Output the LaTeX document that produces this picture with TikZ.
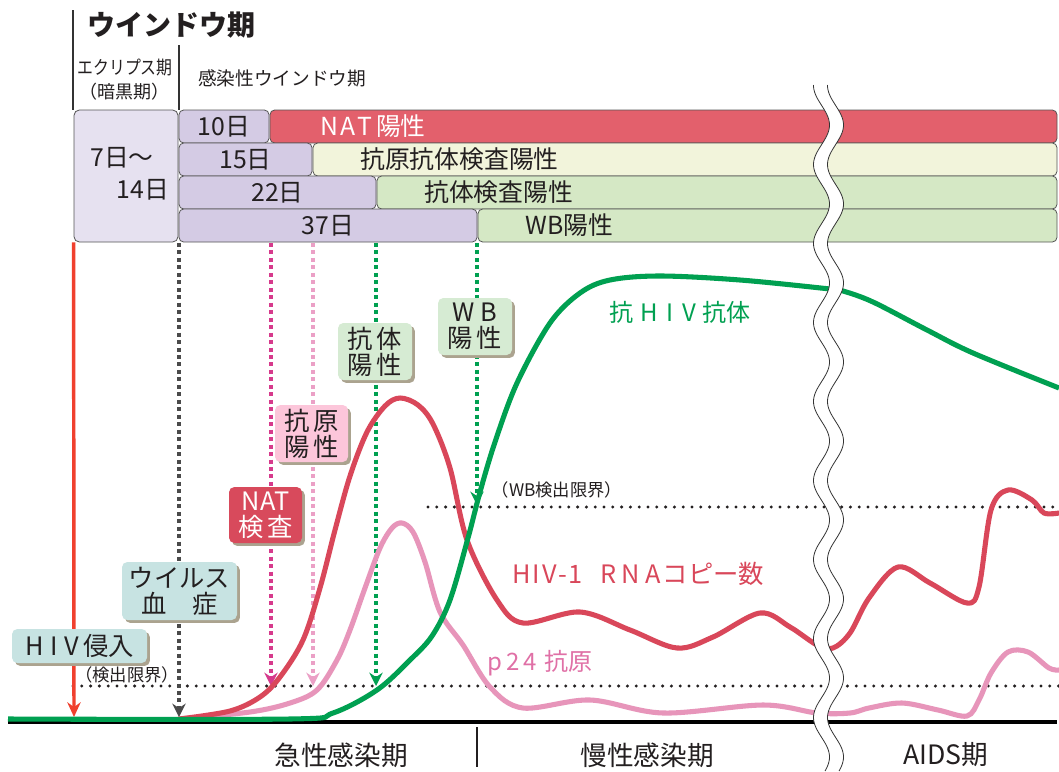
\documentclass[tikz,border=0pt]{standalone}
\usepackage{fontspec}
\setmainfont{Noto Sans CJK JP}
\usetikzlibrary{arrows.meta,shadows}
\definecolor{lav}{HTML}{D4CBE4}
\definecolor{lavlt}{HTML}{E6E1F0}
\definecolor{redbar}{HTML}{E3606C}
\definecolor{cream}{HTML}{F2F4DB}
\definecolor{grnbar}{HTML}{D5E8C5}
\definecolor{txt}{HTML}{231F20}
\definecolor{tealbox}{HTML}{C7E3E2}
\definecolor{natred}{HTML}{D84A5C}
\definecolor{pinkbox}{HTML}{FCC6DA}
\definecolor{grnbox}{HTML}{D6EBD3}
\definecolor{rna}{HTML}{D9475A}
\definecolor{p24c}{HTML}{E795BA}
\definecolor{p24txt}{HTML}{E070A6}
\definecolor{abc}{HTML}{00A051}
\definecolor{shad}{HTML}{ABA38F}
\definecolor{graydot}{HTML}{4A4A4A}
\definecolor{magdot}{HTML}{D63A8C}
\definecolor{pinkdot}{HTML}{EBA0C6}
\definecolor{hivred}{HTML}{F0402E}
\definecolor{edgec}{HTML}{555555}
\begin{document}
\begin{tikzpicture}[x=0.75pt,y=-0.75pt,
  bar/.style={draw=edgec, line width=0.6pt, rounded corners=3.5pt, inner sep=0pt, minimum height=24.75pt, text=txt, font=\fontsize{18.6}{20}\selectfont},
  bartext/.style={anchor=west, inner sep=0pt, text=txt, font=\fontsize{18.6}{20}\selectfont},
  lbl/.style={rounded corners=4pt, inner sep=0pt, align=center, text=txt, font=\fontsize{19}{19.5}\selectfont, drop shadow={shadow xshift=2.2pt, shadow yshift=-2.2pt, fill=shad, opacity=1}},
  vdot/.style={line width=3pt, dash pattern=on 3pt off 2.6pt, -{Stealth[length=10pt,width=10pt]}},
  limit/.style={line width=2.5pt, line cap=round, dash pattern=on 0pt off 6.6pt},
  curve/.style={line width=3.8pt, line cap=round, line join=round},
  small/.style={inner sep=0pt, text=txt, font=\fontsize{13}{14}\selectfont},
  axislbl/.style={inner sep=0pt, text=txt, font=\fontsize{20}{22}\selectfont}
]
\fill[white] (0,0) rectangle (1059,771);
\useasboundingbox (0,0) rectangle (1059,771);

% header
\draw[edgec!60!black, line width=1.1pt] (73,10) -- (73,110);
\draw[edgec!60!black, line width=1.1pt] (179,45) -- (179,110);
\node[inner sep=0pt, text=txt, font=\fontsize{21}{22}\selectfont\bfseries] (wtitle) at (171.5,25) {ウインドウ期};
\node[inner sep=0pt, text=txt, font=\fontsize{14}{15}\selectfont] (eclt) at (125,68) {\scalebox{0.85}[1]{エクリプス期}};
\node[inner sep=0pt, text=txt, font=\fontsize{13.5}{14}\selectfont] (anko) at (124,92) {（暗黒期）};
\node[inner sep=0pt, text=txt, font=\fontsize{14}{15}\selectfont] (kansen) at (282,78) {感染性ウインドウ期};

% eclipse box
\node[draw=edgec, line width=0.6pt, rounded corners=4pt, fill=lavlt, inner sep=0pt, minimum width=78pt, minimum height=99pt] (ecl) at (126,176) {};
\node[bartext, anchor=center, font=\fontsize{18.6}{20}\selectfont] (d7) at (122,158) {7日～};
\node[bartext, anchor=center, font=\fontsize{18.6}{20}\selectfont] (d14) at (143,190) {14日};

% bars
\node[bar, fill=redbar, minimum width=590.25pt] (nat) at (663.5,126.5) {};
\node[bar, fill=lav, minimum width=67.5pt] (b10) at (224,126.5) {10日};
\node[bartext, text=white] (natt) at (320,126.5) {N\kern1.5pt A\kern1.5pt T\kern3pt 陽性};
\node[bar, fill=cream, minimum width=558pt] (agab) at (685,159.5) {};
\node[bar, fill=lav, minimum width=99.75pt] (b15) at (245.5,159.5) {15日};
\node[bartext] (agabt) at (360,159.5) {抗原抗体検査陽性};
\node[bar, fill=grnbar, minimum width=510pt] (abb) at (717,192.5) {};
\node[bar, fill=lav, minimum width=147.75pt] (b22) at (277.5,192.5) {22日};
\node[bartext] (abbt) at (424,192.5) {抗体検査陽性};
\node[bar, fill=grnbar, minimum width=434.25pt] (wbb) at (767.5,225.5) {};
\node[bar, fill=lav, minimum width=223.5pt] (b37) at (328,225.5) {37日};
\node[bartext] (wbbt) at (525,225.5) {WB陽性};

% axis
\coordinate (ax0) at (8,722);
\coordinate (ax1) at (1057,722);
\draw[black, line width=3pt] (ax0) -- (ax1);
\coordinate (tk0) at (477,727);
\coordinate (tk1) at (477,767);
\draw[txt, line width=1.1pt] (tk0) -- (tk1);

% detection limits
\coordinate (dl0) at (73,686);
\coordinate (dl1) at (1059,686);
\draw[limit, txt] (dl0) -- (dl1);
\coordinate (wl0) at (428,507);
\coordinate (wl1) at (1059,507);
\draw[limit, txt] (wl0) -- (wl1);
\node[small] (dlt) at (127,675) {（検出限界）};
\node[small] (wlt) at (557,490) {（WB検出限界）};

% vertical arrows
\coordinate (hive) at (74,717);
\draw[hivred, line width=2.6pt, -{Stealth[length=11pt,width=10pt]}] (ecl.south west) -- (hive);
\coordinate (virt) at (179,243);
\coordinate (vire) at (179,717);
\draw[vdot, graydot] (virt) -- (vire);
\coordinate (natt0) at (271,243);
\coordinate (nate) at (271,686);
\draw[vdot, magdot] (natt0) -- (nate);
\coordinate (agt) at (313,243);
\coordinate (age) at (313,686);
\draw[vdot, pinkdot] (agt) -- (age);
\coordinate (abt0) at (376,243);
\coordinate (abe) at (376,686);
\draw[vdot, abc] (abt0) -- (abe);
\coordinate (wbt0) at (477,243);
\coordinate (wbe) at (477,505);
\draw[vdot, abc] (wbt0) -- (wbe);

% curves
\draw[curve, p24c] plot[smooth, tension=0.55] coordinates {(179,719) (250,712) (290,703) (317,690) (337,660) (350,630) (365,588) (380,548) (392,528) (402,523) (413,532) (425,562) (440,612) (463,645) (490,687) (523,708) (590,700) (663,713) (763,705) (817,713) (850,713) (869,708) (902,703) (938,710) (967,716) (979,700) (991,673) (1008,652) (1028,652) (1049,668) (1059,670)};
\draw[curve, rna] plot[smooth, tension=0.55] coordinates {(179,719) (230,711) (260,697) (280,677) (303,640) (320,588) (335,530) (350,476) (367,432) (385,406) (400,398) (418,405) (433,424) (450,468) (467,540) (497,600) (523,623) (580,612) (630,630) (677,648) (713,637) (760,613) (790,627) (817,645) (833,648) (850,633) (869,598) (898,567) (930,583) (967,603) (979,587) (991,510) (1008,490) (1032,500) (1044,513) (1059,513)};
\draw[curve, abc, line cap=butt] plot[smooth, tension=0.55] coordinates {(8,719) (290,719) (333,713) (377,690) (410,660) (432,636) (450,600) (468,538) (480,492) (495,442) (517,383) (550,323) (580,293) (610,280) (660,276) (740,280) (830,289) (843,291) (873,302) (927,330) (973,353) (1059,388)};

% curve labels
\node[inner sep=0pt, text=abc, font=\fontsize{18}{20}\selectfont, anchor=west] (ablbl) at (609,312) {抗\kern5.5pt H\kern6.5pt I\kern6.5pt V\kern4.5pt 抗体};
\node[inner sep=0pt, text=rna, font=\fontsize{19}{20}\selectfont, anchor=west] (rnalbl) at (512,574) {H\kern1.5pt I\kern1.5pt V\kern1pt -\kern1.5pt 1\kern13pt R\kern4pt N\kern4pt A\kern1.5pt コピー数};
\node[inner sep=0pt, text=p24txt, font=\fontsize{18}{20}\selectfont, anchor=west] (p24lbl) at (487,663) {p\kern3pt 2\kern3pt 4\kern6pt 抗原};

% break
\fill[white] plot[domain=85:771,samples=300,variable=\t] ({821.5+8*sin((\t-283)*4.557+90)},\t) -- plot[domain=771:85,samples=300,variable=\t] ({835.5+8*sin((\t-283)*4.557+90)},\t) -- cycle;
\draw[edgec!60!black, line width=0.6pt] plot[domain=85:771,samples=300,variable=\t] ({821.5+8*sin((\t-283)*4.557+90)},\t);
\draw[edgec!60!black, line width=0.6pt] plot[domain=85:771,samples=300,variable=\t] ({835.5+8*sin((\t-283)*4.557+90)},\t);

% label boxes
\node[lbl, fill=tealbox, minimum width=101.25pt, minimum height=25.5pt] (hivin) at (79.5,646) {H\kern5pt I\kern5pt V\kern3pt 侵入};
\node[lbl, fill=tealbox, minimum width=86.25pt, minimum height=43.5pt] (vir) at (179.5,591) {ウイルス\\血\hspace{1em}症};
\node[lbl, fill=natred, text=white, minimum width=54.75pt, minimum height=42pt] (natl) at (265.5,515) {NAT\\検\kern3pt 査};
\node[lbl, fill=pinkbox, minimum width=54.75pt, minimum height=42.75pt] (agl) at (311.5,433.5) {抗\kern3pt 原\\陽\kern3pt 性};
\node[lbl, fill=grnbox, minimum width=55.5pt, minimum height=42.75pt] (abl) at (375,351.5) {抗\kern3pt 体\\陽\kern3pt 性};
\node[lbl, fill=grnbox, minimum width=55.5pt, minimum height=42.75pt] (wbl) at (475,326.5) {W\kern4pt B\\陽\kern3pt 性};

% axis labels
\node[axislbl] (acute) at (341,755) {急性感染期};
\node[axislbl] (chronic) at (647,755) {慢性感染期};
\node[axislbl] (aids) at (946,755) {AIDS期};
\end{tikzpicture}
\end{document}
